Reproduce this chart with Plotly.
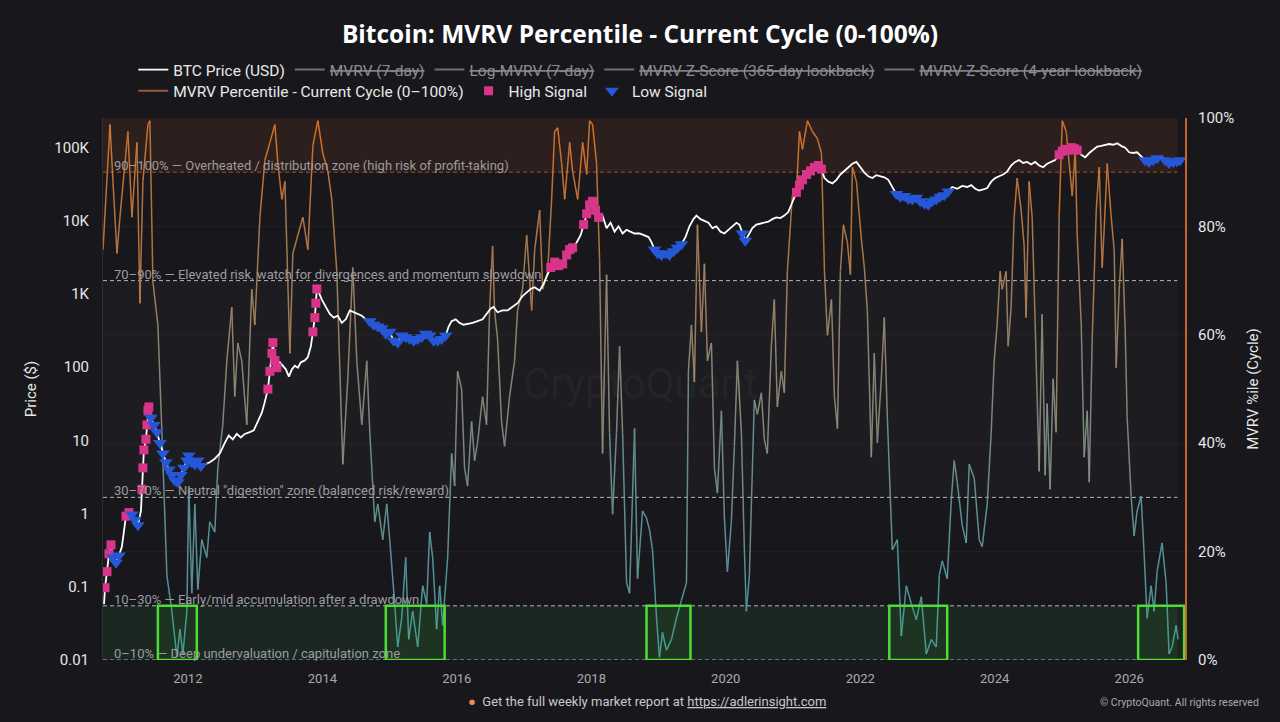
import plotly.graph_objects as go
from plotly.colors import sample_colorscale
import pandas as pd

# MVRV percentile (current cycle), decimal year -> percent
mvrv_year = [
    2010.737, 2010.841, 2010.885, 2010.945, 2010.989, 2011.108, 2011.168, 2011.242, 2011.287, 2011.331,
    2011.406, 2011.435, 2011.480, 2011.554, 2011.614, 2011.688, 2011.762, 2011.837, 2011.881, 2011.926,
    2011.985, 2012.015, 2012.059, 2012.104, 2012.149, 2012.208, 2012.282, 2012.327, 2012.401, 2012.446,
    2012.520, 2012.580, 2012.654, 2012.698, 2012.743, 2012.802, 2012.877, 2012.951, 2012.996, 2013.070,
    2013.144, 2013.219, 2013.293, 2013.337, 2013.397, 2013.442, 2013.516, 2013.560, 2013.635, 2013.709,
    2013.783, 2013.858, 2013.932, 2014.006, 2014.081, 2014.140, 2014.214, 2014.259, 2014.304, 2014.378,
    2014.452, 2014.512, 2014.586, 2014.660, 2014.705, 2014.779, 2014.824, 2014.898, 2014.957, 2015.002,
    2015.076, 2015.121, 2015.180, 2015.240, 2015.284, 2015.344, 2015.418, 2015.492, 2015.552, 2015.596,
    2015.641, 2015.700, 2015.745, 2015.790, 2015.864, 2015.923, 2015.968, 2016.012, 2016.072, 2016.116,
    2016.161, 2016.221, 2016.265, 2016.310, 2016.384, 2016.443, 2016.488, 2016.533, 2016.562, 2016.607,
    2016.666, 2016.711, 2016.785, 2016.860, 2016.904, 2016.978, 2017.038, 2017.112, 2017.157, 2017.231,
    2017.276, 2017.350, 2017.409, 2017.454, 2017.499, 2017.558, 2017.603, 2017.677, 2017.721, 2017.796,
    2017.870, 2017.930, 2017.974, 2018.019, 2018.078, 2018.123, 2018.167, 2018.227, 2018.271, 2018.316,
    2018.375, 2018.420, 2018.465, 2018.524, 2018.569, 2018.643, 2018.687, 2018.762, 2018.821, 2018.866,
    2018.910, 2018.970, 2019.014, 2019.059, 2019.118, 2019.193, 2019.267, 2019.341, 2019.416, 2019.445,
    2019.490, 2019.534, 2019.579, 2019.638, 2019.683, 2019.728, 2019.787, 2019.832, 2019.876, 2019.936,
    2019.980, 2020.025, 2020.084, 2020.129, 2020.174, 2020.233, 2020.278, 2020.307, 2020.352, 2020.426,
    2020.471, 2020.530, 2020.575, 2020.619, 2020.679, 2020.723, 2020.768, 2020.827, 2020.872, 2020.917,
    2020.991, 2021.050, 2021.095, 2021.140, 2021.214, 2021.288, 2021.362, 2021.422, 2021.467, 2021.511,
    2021.571, 2021.615, 2021.660, 2021.704, 2021.749, 2021.808, 2021.853, 2021.882, 2021.942, 2022.016,
    2022.061, 2022.105, 2022.165, 2022.209, 2022.254, 2022.313, 2022.358, 2022.403, 2022.477, 2022.551,
    2022.611, 2022.685, 2022.759, 2022.834, 2022.908, 2022.982, 2023.057, 2023.131, 2023.176, 2023.220,
    2023.294, 2023.354, 2023.398, 2023.443, 2023.517, 2023.577, 2023.621, 2023.696, 2023.770, 2023.814,
    2023.889, 2023.948, 2023.993, 2024.037, 2024.082, 2024.112, 2024.171, 2024.201, 2024.245, 2024.290,
    2024.335, 2024.394, 2024.439, 2024.468, 2024.513, 2024.558, 2024.602, 2024.632, 2024.662, 2024.706,
    2024.751, 2024.781, 2024.825, 2024.870, 2024.914, 2024.959, 2025.004, 2025.063, 2025.107, 2025.152,
    2025.197, 2025.226, 2025.286, 2025.330, 2025.375, 2025.405, 2025.449, 2025.509, 2025.553, 2025.598,
    2025.628, 2025.672, 2025.732, 2025.776, 2025.806, 2025.851, 2025.895, 2025.940, 2025.969, 2026.029,
    2026.073, 2026.118, 2026.177, 2026.222, 2026.267, 2026.326, 2026.371, 2026.415, 2026.489, 2026.549,
    2026.593, 2026.638, 2026.698, 2026.727,
]
mvrv_pct = [
    75.7, 98.8, 88.3, 75.0, 81.7, 97.5, 81.7, 95.5, 65.8, 88.3,
    98.8, 99.5, 69.8, 61.8, 42.0, 15.6, 9.0, 0.5, 5.7, 1.1,
    9.0, 32.1, 12.3, 28.8, 13.0, 22.2, 18.9, 25.5, 23.6, 35.4,
    43.4, 55.2, 65.1, 48.6, 58.5, 55.2, 43.4, 68.4, 61.8, 81.7,
    92.2, 95.5, 98.8, 91.6, 85.0, 88.3, 56.6, 75.0, 78.4, 81.7,
    75.7, 94.9, 99.5, 93.5, 90.2, 85.0, 71.7, 53.9, 36.1, 51.9,
    72.4, 55.2, 43.4, 55.2, 42.0, 25.5, 28.8, 22.2, 28.8, 22.2,
    10.4, 2.4, 7.7, 18.9, 3.8, 9.0, 2.4, 13.7, 10.4, 23.6,
    18.9, 5.7, 13.7, 6.4, 18.9, 38.1, 32.1, 53.3, 50.0, 35.4,
    32.1, 44.0, 36.8, 40.1, 48.6, 43.4, 64.5, 76.4, 64.5, 59.2,
    44.0, 39.4, 48.6, 55.2, 64.5, 68.4, 78.4, 64.5, 75.7, 83.0,
    68.4, 71.7, 85.0, 97.5, 98.2, 91.6, 85.0, 95.5, 90.2, 85.0,
    95.5, 89.6, 99.5, 98.8, 91.6, 73.7, 38.1, 71.1, 42.0, 26.9,
    42.0, 57.9, 42.0, 14.3, 12.3, 42.7, 15.0, 27.5, 26.2, 24.0,
    20.3, 7.7, 0.5, 5.1, 1.8, 3.8, 7.7, 11.0, 14.3, 53.3,
    61.8, 51.3, 80.3, 60.5, 73.1, 55.2, 58.5, 35.4, 30.8, 46.0,
    26.2, 16.3, 25.5, 39.4, 55.2, 42.0, 20.3, 9.0, 15.6, 48.0,
    45.3, 49.3, 40.7, 38.1, 57.9, 66.5, 46.7, 53.3, 49.3, 71.7,
    85.6, 86.3, 97.5, 94.2, 99.5, 97.5, 96.2, 93.5, 71.7, 59.9,
    66.5, 48.6, 42.7, 71.7, 80.3, 77.0, 71.1, 90.9, 88.3, 77.7,
    72.4, 64.5, 37.4, 56.6, 40.1, 51.9, 63.2, 44.7, 20.3, 22.2,
    4.4, 13.7, 10.4, 7.4, 11.7, 1.1, 3.8, 2.4, 15.6, 18.3,
    15.0, 29.5, 36.8, 32.8, 24.9, 21.6, 36.1, 33.5, 22.2, 20.9,
    28.8, 42.0, 55.2, 61.8, 71.7, 68.4, 71.7, 57.9, 65.1, 81.7,
    88.9, 83.0, 76.4, 63.2, 88.3, 81.7, 62.5, 48.6, 34.8, 63.8,
    34.1, 47.3, 31.5, 51.9, 42.0, 81.7, 99.5, 97.5, 91.6, 85.6,
    94.2, 78.4, 61.8, 37.4, 46.0, 32.8, 59.2, 83.0, 90.9, 72.4,
    79.7, 91.6, 81.7, 75.7, 53.9, 68.4, 77.7, 60.5, 44.7, 30.2,
    22.9, 27.5, 30.2, 19.6, 7.7, 13.7, 9.0, 16.3, 21.6, 14.3,
    1.1, 2.4, 6.4, 3.8,
]

# BTC price (USD), decimal year -> price
price_year = [
    2010.752, 2010.767, 2010.796, 2010.826, 2010.856, 2010.885, 2010.930, 2010.975, 2011.019, 2011.049,
    2011.079, 2011.123, 2011.168, 2011.212, 2011.257, 2011.302, 2011.316, 2011.331, 2011.346, 2011.376,
    2011.391, 2011.406, 2011.420, 2011.450, 2011.495, 2011.539, 2011.584, 2011.628, 2011.673, 2011.718,
    2011.762, 2011.807, 2011.851, 2011.896, 2011.941, 2011.985, 2012.015, 2012.059, 2012.104, 2012.149,
    2012.193, 2012.253, 2012.327, 2012.401, 2012.476, 2012.550, 2012.609, 2012.669, 2012.728, 2012.788,
    2012.847, 2012.921, 2012.981, 2013.040, 2013.100, 2013.144, 2013.189, 2013.219, 2013.248, 2013.263,
    2013.293, 2013.323, 2013.367, 2013.412, 2013.456, 2013.501, 2013.546, 2013.590, 2013.635, 2013.679,
    2013.739, 2013.783, 2013.828, 2013.858, 2013.887, 2013.902, 2013.917, 2013.947, 2013.991, 2014.051,
    2014.110, 2014.170, 2014.229, 2014.289, 2014.348, 2014.408, 2014.467, 2014.527, 2014.586, 2014.645,
    2014.705, 2014.764, 2014.824, 2014.883, 2014.943, 2015.002, 2015.061, 2015.121, 2015.180, 2015.240,
    2015.299, 2015.359, 2015.418, 2015.477, 2015.537, 2015.596, 2015.656, 2015.715, 2015.775, 2015.834,
    2015.879, 2015.923, 2015.983, 2016.042, 2016.102, 2016.161, 2016.235, 2016.310, 2016.384, 2016.443,
    2016.503, 2016.547, 2016.607, 2016.681, 2016.755, 2016.830, 2016.904, 2016.978, 2017.038, 2017.097,
    2017.157, 2017.231, 2017.291, 2017.350, 2017.395, 2017.454, 2017.513, 2017.573, 2017.632, 2017.677,
    2017.721, 2017.781, 2017.840, 2017.885, 2017.930, 2017.974, 2018.019, 2018.063, 2018.108, 2018.167,
    2018.227, 2018.286, 2018.346, 2018.405, 2018.465, 2018.524, 2018.584, 2018.643, 2018.717, 2018.792,
    2018.851, 2018.896, 2018.940, 2018.985, 2019.044, 2019.104, 2019.163, 2019.223, 2019.282, 2019.341,
    2019.401, 2019.460, 2019.520, 2019.564, 2019.624, 2019.683, 2019.743, 2019.802, 2019.861, 2019.921,
    2019.980, 2020.040, 2020.099, 2020.159, 2020.203, 2020.248, 2020.292, 2020.337, 2020.396, 2020.456,
    2020.515, 2020.575, 2020.634, 2020.694, 2020.753, 2020.813, 2020.872, 2020.931, 2020.991, 2021.050,
    2021.095, 2021.140, 2021.199, 2021.259, 2021.318, 2021.377, 2021.422, 2021.467, 2021.526, 2021.585,
    2021.645, 2021.704, 2021.763, 2021.823, 2021.882, 2021.942, 2022.001, 2022.061, 2022.120, 2022.180,
    2022.239, 2022.298, 2022.358, 2022.417, 2022.477, 2022.536, 2022.596, 2022.655, 2022.715, 2022.774,
    2022.834, 2022.893, 2022.953, 2023.012, 2023.071, 2023.131, 2023.190, 2023.250, 2023.309, 2023.369,
    2023.443, 2023.517, 2023.591, 2023.651, 2023.710, 2023.770, 2023.829, 2023.889, 2023.948, 2024.007,
    2024.067, 2024.126, 2024.186, 2024.245, 2024.305, 2024.364, 2024.424, 2024.483, 2024.543, 2024.602,
    2024.662, 2024.721, 2024.781, 2024.840, 2024.899, 2024.959, 2025.004, 2025.048, 2025.093, 2025.137,
    2025.182, 2025.226, 2025.286, 2025.345, 2025.405, 2025.464, 2025.524, 2025.583, 2025.643, 2025.702,
    2025.762, 2025.821, 2025.880, 2025.940, 2025.999, 2026.059, 2026.118, 2026.177, 2026.237, 2026.296,
    2026.356, 2026.415, 2026.475, 2026.534, 2026.593, 2026.653, 2026.712, 2026.757,
]
price_usd = [
    0.058, 0.097, 0.161, 0.282, 0.374, 0.252, 0.213, 0.267, 0.354, 0.555,
    0.92, 1.03, 0.97, 0.82, 0.69, 1.09, 2.14, 4.2, 7.4, 10.3,
    16.2, 25.4, 28.5, 20.3, 16.2, 12.9, 9.2, 6.6, 5.0, 4.0,
    3.36, 2.83, 2.68, 3.36, 4.2, 5.3, 6.2, 5.0, 4.7, 5.3,
    4.45, 4.7, 5.0, 5.6, 6.6, 9.2, 11.6, 10.3, 12.2, 10.9,
    12.2, 12.9, 13.7, 18.1, 24.0, 33.7, 49.9, 87.5, 154, 215,
    123, 98, 116, 104, 93, 74, 93, 104, 98, 116,
    123, 137, 192, 302, 473, 743, 1165, 1040, 830, 663,
    530, 473, 501, 400, 448, 593, 560, 530, 501, 448,
    423, 378, 357, 338, 285, 302, 228, 215, 270, 255,
    241, 228, 241, 255, 285, 270, 228, 228, 241, 270,
    357, 423, 448, 400, 378, 386, 400, 423, 448, 530,
    627, 663, 560, 593, 593, 663, 743, 930, 1040, 1165,
    1231, 1101, 1378, 1825, 2285, 2705, 2420, 2560, 3390, 4010,
    4245, 5025, 6295, 8820, 12360, 16370, 18320, 13840, 11050, 11670,
    7870, 9330, 7050, 8340, 6650, 7450, 7050, 6650, 6650, 6295,
    5945, 5025, 4010, 3590, 3390, 3590, 3390, 3795, 4245, 4750,
    5945, 8340, 10450, 11670, 10450, 9870, 9330, 7870, 8340, 7050,
    6650, 7450, 8340, 9330, 8820, 6650, 5310, 6295, 7870, 8820,
    9020, 9330, 9640, 10450, 11050, 10790, 11670, 13060, 17300, 24270,
    30400, 35970, 42560, 47650, 53330, 56390, 50360, 38020, 33960, 32140,
    35970, 42560, 47650, 53330, 59700, 63100, 53330, 45080, 40270, 38020,
    41590, 40270, 38900, 35970, 28710, 22960, 21180, 21680, 19810, 19360,
    20500, 18320, 16940, 16370, 18320, 19360, 21180, 22180, 24830, 28710,
    27160, 29720, 28710, 30400, 27160, 25660, 26550, 27800, 33960, 38020,
    40270, 42560, 46560, 56390, 63100, 66800, 61090, 63100, 58340, 63100,
    56390, 53330, 59700, 63100, 66800, 79070, 88530, 93590, 91500, 99000,
    95700, 91500, 79070, 73110, 83560, 93590, 102400, 104700, 107100, 110900,
    108400, 113300, 104700, 99000, 85500, 83560, 85500, 74600, 66800, 63100,
    66800, 70630, 74600, 66800, 61090, 63100, 64570, 66800,
]

# signal windows (start year, end year)
high_start = [2010.76, 2011.07, 2011.31, 2013.17, 2013.84, 2017.39, 2017.62, 2017.85, 2021.04, 2024.95]
high_end = [2010.87, 2011.14, 2011.43, 2013.33, 2013.93, 2017.58, 2017.73, 2018.12, 2021.43, 2025.24]
low_start = [2010.87, 2011.16, 2011.44, 2014.70, 2018.90, 2020.23, 2022.53, 2026.22, 2026.52]
low_end = [2010.99, 2011.30, 2012.22, 2015.86, 2019.35, 2020.32, 2023.31, 2026.43, 2026.78]

# accumulation boxes (start year, end year), 0-10% band
box_start = [2011.554, 2014.943, 2018.821, 2022.432, 2026.133]
box_end = [2012.134, 2015.819, 2019.475, 2023.294, 2026.817]

zone_levels = [90, 70, 30, 10, 0]
zone_labels = [
    "90–100% — Overheated / distribution zone (high risk of profit-taking)",
    "70–90% — Elevated risk, watch for divergences and momentum slowdown",
    "30–70% — Neutral \"digestion\" zone (balanced risk/reward)",
    "10–30% — Early/mid accumulation after a drawdown",
    "0–10% — Deep undervaluation / capitulation zone",
]

price_ticks = [0.01, 0.1, 1, 10, 100, 1000, 10000, 100000]
price_ticktext = ["0.01", "0.1", "1", "10", "100", "1K", "10K", "100K"]
pct_ticks = [0, 20, 40, 60, 80, 100]
pct_ticktext = ["0%", "20%", "40%", "60%", "80%", "100%"]

mvrv_colors = [[0.0, "#48a7a2"], [0.2, "#5b9ca8"], [0.45, "#8a9184"],
               [0.65, "#a3896a"], [0.82, "#c27c42"], [1.0, "#e87a26"]]

BG = "#18181c"
FONT = "Roboto"


def to_date(y):
    yr = int(y)
    return pd.Timestamp(yr, 1, 1) + pd.Timedelta(days=(y - yr) * 365.25)


mvrv_x = [to_date(v) for v in mvrv_year]
price_x = [to_date(v) for v in price_year]


def in_windows(y, starts, ends):
    return any(s <= y <= e for s, e in zip(starts, ends))


fig = go.Figure()

# percentile line, split into coloured segments by value
n_bins = 20
seg_x = [[] for _ in range(n_bins)]
seg_y = [[] for _ in range(n_bins)]
for i in range(len(mvrv_pct) - 1):
    mid = (mvrv_pct[i] + mvrv_pct[i + 1]) / 200
    b = min(int(mid * n_bins), n_bins - 1)
    seg_x[b] += [mvrv_x[i], mvrv_x[i + 1], None]
    seg_y[b] += [mvrv_pct[i], mvrv_pct[i + 1], None]
bin_colors = sample_colorscale(mvrv_colors, [(b + 0.5) / n_bins for b in range(n_bins)])
for b in range(n_bins):
    if not seg_x[b]:
        continue
    fig.add_trace(go.Scatter(x=seg_x[b], y=seg_y[b], mode="lines", yaxis="y",
                             line=dict(color=bin_colors[b], width=1.5), opacity=0.9,
                             showlegend=False, hoverinfo="skip"))

fig.add_trace(go.Scatter(x=price_x, y=price_usd, mode="lines", name="BTC Price (USD)",
                         yaxis="y2", line=dict(color="white", width=1.8)))

# switched-off series: legend entries only
for nm in ["MVRV (7-day)", "Log-MVRV (7-day)", "MVRV Z-Score (365-day lookback)",
           "MVRV Z-Score (4-year lookback)"]:
    fig.add_trace(go.Scatter(x=[None], y=[None], mode="lines", yaxis="y2",
                             name=f'<span style="color:#8e8e92"><s>{nm}</s></span>',
                             line=dict(color="#6e6e72", width=2)))

fig.add_trace(go.Scatter(x=[None], y=[None], mode="lines", yaxis="y", legend="legend2",
                         name="MVRV Percentile - Current Cycle (0–100%)",
                         line=dict(color="#9c5a34", width=2)))

hx = [x for x, y in zip(price_x, price_year) if in_windows(y, high_start, high_end)]
hy = [p for p, y in zip(price_usd, price_year) if in_windows(y, high_start, high_end)]
lx = [x for x, y in zip(price_x, price_year) if in_windows(y, low_start, low_end)]
ly = [p for p, y in zip(price_usd, price_year) if in_windows(y, low_start, low_end)]

fig.add_trace(go.Scatter(x=hx, y=hy, mode="markers", name="High Signal", yaxis="y2",
                         legend="legend2",
                         marker=dict(symbol="square", size=9, color="#d8358a")))
fig.add_trace(go.Scatter(x=lx, y=ly, mode="markers", name="Low Signal", yaxis="y2",
                         legend="legend2",
                         marker=dict(symbol="triangle-down", size=12, color="#2657d8")))

x0 = to_date(2010.737)
x1 = to_date(2026.83)

shapes = [
    dict(type="rect", xref="paper", yref="y", x0=0, x1=0.993, y0=90, y1=100,
         fillcolor="rgba(150,70,40,0.16)", line_width=0, layer="below"),
    dict(type="rect", xref="paper", yref="y", x0=0, x1=0.993, y0=30, y1=70,
         fillcolor="rgba(255,255,255,0.025)", line_width=0, layer="below"),
    dict(type="rect", xref="paper", yref="y", x0=0, x1=0.993, y0=0, y1=10,
         fillcolor="rgba(50,160,70,0.12)", line_width=0, layer="below"),
]
for lvl in zone_levels:
    shapes.append(dict(type="line", xref="paper", yref="y", x0=0, x1=0.993, y0=lvl, y1=lvl,
                       line=dict(color="#9a4e34" if lvl == 90 else "#b4b4b8", width=1,
                                 dash="4px,3px"), layer="below"))
for s, e in zip(box_start, box_end):
    shapes.append(dict(type="rect", xref="x", yref="y", x0=to_date(s), x1=to_date(e), y0=0, y1=10,
                       line=dict(color="#4fdc35", width=2.5), fillcolor="rgba(70,200,60,0.07)",
                       layer="above"))

annotations = []
for lvl, txt in zip(zone_levels, zone_labels):
    annotations.append(dict(text=txt, xref="paper", yref="y", x=0.008, y=lvl, xanchor="left",
                            yanchor="bottom", showarrow=False, yshift=-3,
                            font=dict(size=13, color="#9c9ca0", family=FONT)))
annotations += [
    dict(text="CryptoQuant", xref="paper", yref="paper", x=0.497, y=0.51, showarrow=False,
         font=dict(size=42, color="rgba(255,255,255,0.045)", family=FONT)),
    dict(text='<span style="color:#f08a5b">●</span>  Get the full weekly market report at '
              '<u>https://adlerinsight.com</u>',
         xref="paper", yref="paper", x=0.503, y=-0.095, showarrow=False,
         font=dict(size=13, color="#c8c8cc", family=FONT)),
    dict(text="© CryptoQuant. All rights reserved", xref="paper", yref="paper",
         x=1.07, y=-0.095, xanchor="right", showarrow=False,
         font=dict(size=10.5, color="#a8a8ac", family=FONT)),
]

legend_font = dict(size=15.5, color="#e8e8ea", family=FONT)

fig.update_layout(
    width=1280, height=722,
    paper_bgcolor=BG, plot_bgcolor=BG,
    margin=dict(l=103, r=95, t=118, b=62),
    font=dict(family=FONT, color="#e6e6e8"),
    title=dict(text="<b>Bitcoin: MVRV Percentile - Current Cycle (0-100%)</b>", x=0.5, xanchor="center",
               y=0.952, yanchor="middle", font=dict(size=24.5, color="white", family="Open Sans")),
    legend=dict(orientation="h", x=0.028, xanchor="left", y=1.12, yanchor="top",
                font=legend_font, bgcolor="rgba(0,0,0,0)", itemwidth=30),
    legend2=dict(orientation="h", x=0.028, xanchor="left", y=1.081, yanchor="top",
                 font=legend_font, bgcolor="rgba(0,0,0,0)", itemwidth=30),
    xaxis=dict(type="date", range=[x0, x1], showgrid=False, zeroline=False,
               tick0="2012-01-01", dtick="M24", tickformat="%Y",
               ticks="outside", ticklen=6, tickcolor="rgba(0,0,0,0)",
               tickfont=dict(size=13, color="#aaaaae")),
    yaxis=dict(side="right", range=[0, 100], tickvals=pct_ticks, ticktext=pct_ticktext,
               showgrid=True, gridcolor="rgba(255,255,255,0.035)", zeroline=False,
               showline=True, linecolor="#c8652a", linewidth=2,
               ticks="outside", ticklen=8, tickcolor="rgba(0,0,0,0)",
               tickfont=dict(size=15, color="#e6e6e8"),
               title=dict(text="MVRV %ile (Cycle)", font=dict(size=15, color="#e6e6e8"), standoff=14)),
    yaxis2=dict(overlaying="y", side="left", type="log", range=[-2, 5.4],
                tickvals=price_ticks, ticktext=price_ticktext, showgrid=False, zeroline=False,
                showline=True, linecolor="#2e2e33", linewidth=1,
                ticks="outside", ticklen=10, tickcolor="rgba(0,0,0,0)",
                tickfont=dict(size=15, color="#e6e6e8"),
                title=dict(text="Price ($)", font=dict(size=15, color="#e6e6e8"), standoff=14)),
    shapes=shapes,
    annotations=annotations,
    hovermode=False,
)

fig.write_html("out.html", config={"displayModeBar": False},
               post_script="document.body.style.margin='0';"
                           "document.body.style.background='#18181c';")
